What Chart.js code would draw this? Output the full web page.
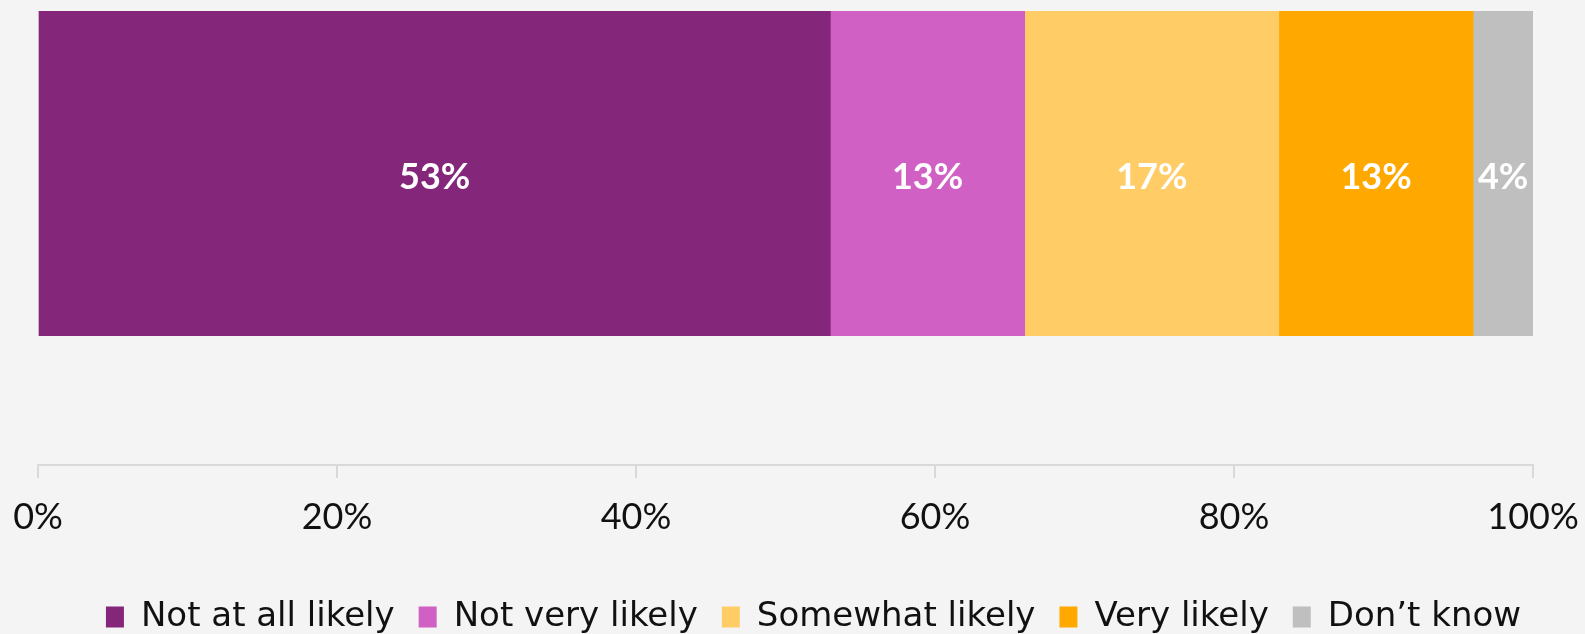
<!DOCTYPE html>
<html>
<head>
<meta charset="utf-8">
<script src="https://cdn.jsdelivr.net/npm/chart.js@4"></script>
<style>
  html, body { margin: 0; padding: 0; background: #f4f4f4; }
  #wrap { width: 1585px; height: 634px; position: relative; }
</style>
</head>
<body>
<div id="wrap"><canvas id="myChart"></canvas></div>
<script>
const categories = ['Likelihood'];
const seriesNames = ['Not at all likely', 'Not very likely', 'Somewhat likely', 'Very likely', 'Don\u2019t know'];
const notAtAll = [53];
const notVery = [13];
const somewhat = [17];
const veryLikely = [13];
const dontKnow = [4];
const tickValues = [0, 20, 40, 60, 80, 100];

const colors = ['#84267A', '#D160C4', '#FFCC66', '#FFA800', '#BFBFBF'];
const fontFamily = 'Lato, "DejaVu Sans", sans-serif';

const barLabels = {
    id: 'barLabels',
    afterDatasetsDraw(chart) {
        const c = chart.ctx;
        c.save();
        c.fillStyle = '#ffffff';
        c.font = 'bold 36px ' + fontFamily;
        c.textAlign = 'center';
        c.textBaseline = 'middle';
        chart.data.datasets.forEach((ds, i) => {
            chart.getDatasetMeta(i).data.forEach((bar, j) => {
                const p = bar.getCenterPoint();
                c.fillText(ds.data[j] + '%', p.x, p.y + 4);
            });
        });
        c.restore();
    }
};

// the legend in the original sits a little right of centre
const legendShift = {
    id: 'legendShift',
    afterLayout(chart) {
        chart.legend.left += 28;
        chart.legend.right += 28;
    }
};

const ctx = document.getElementById('myChart');

new Chart(ctx, {
    type: 'bar',
    data: {
        labels: categories,
        datasets: [notAtAll, notVery, somewhat, veryLikely, dontKnow].map((d, i) => ({
            label: seriesNames[i],
            data: d,
            backgroundColor: colors[i],
            borderWidth: 0,
            categoryPercentage: 1,
            barPercentage: 1
        }))
    },
    options: {
        indexAxis: 'y',
        responsive: true,
        maintainAspectRatio: false,
        animation: false,
        layout: {
            padding: { left: 38, right: 52, top: 11, bottom: -10 }
        },
        scales: {
            x: {
                stacked: true,
                min: 0,
                max: 100,
                position: { y: 0.897 },
                afterBuildTicks: (axis) => {
                    axis.ticks = tickValues.map(v => ({ value: v }));
                },
                afterFit: (axis) => {
                    axis.paddingLeft = 0;
                    axis.paddingRight = 0;
                },
                grid: {
                    drawOnChartArea: false,
                    color: '#d9d9d9',
                    tickLength: 12,
                    lineWidth: 2
                },
                border: { color: '#d9d9d9', width: 2 },
                ticks: {
                    color: '#111111',
                    padding: 19,
                    font: { family: fontFamily, size: 36 },
                    callback: (v) => v + '%'
                }
            },
            y: {
                stacked: true,
                display: false
            }
        },
        plugins: {
            legend: {
                position: 'bottom',
                title: {
                    display: true,
                    text: ' ',
                    padding: { top: 225.6, bottom: 0 }
                },
                labels: {
                    color: '#111111',
                    boxWidth: 18,
                    boxHeight: 21,
                    padding: 24,
                    font: { family: '"DejaVu Sans", sans-serif', size: 34 }
                }
            },
            tooltip: { enabled: false }
        }
    },
    plugins: [barLabels, legendShift]
});
</script>
</body>
</html>
